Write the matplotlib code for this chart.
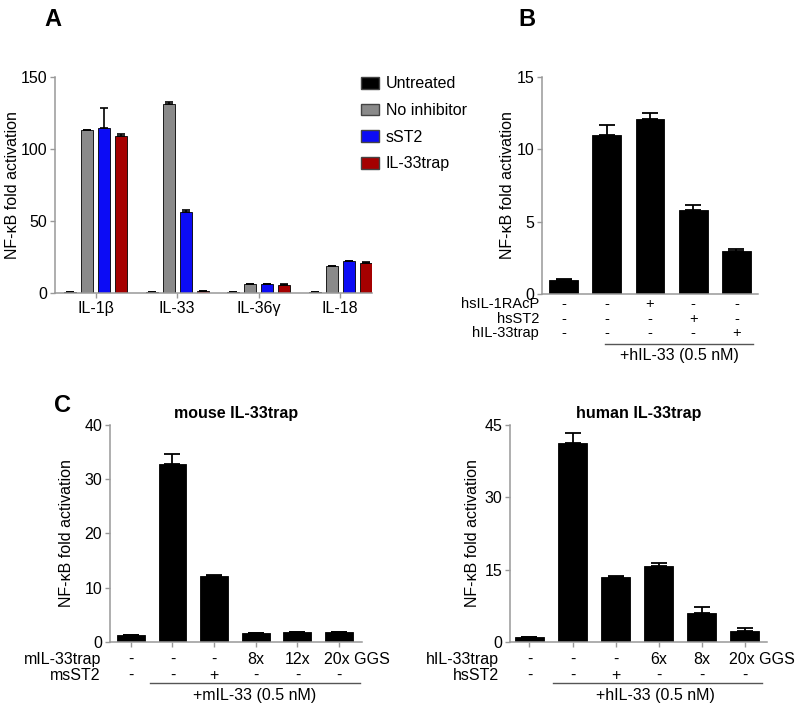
import numpy as np
import matplotlib
matplotlib.use("Agg")
import matplotlib.pyplot as plt
from matplotlib.patches import Patch

# =========================
# Data
# =========================
a_groups = ["IL-1\u03b2", "IL-33", "IL-36\u03b3", "IL-18"]
a_series = ["Untreated", "No inhibitor", "sST2", "IL-33trap"]
a_untreated = [1.0, 1.0, 1.0, 1.0]
a_no_inhib = [113.0, 131.5, 6.0, 18.5]
a_sst2 = [114.5, 56.5, 6.0, 22.2]
a_trap = [109.0, 1.5, 5.7, 21.0]
a_untreated_err = [0.0, 0.0, 0.0, 0.0]
a_no_inhib_err = [0.3, 0.8, 0.3, 0.3]
a_sst2_err = [14.0, 1.0, 0.3, 0.3]
a_trap_err = [1.5, 0.2, 0.3, 0.8]

b_vals = [1.0, 11.0, 12.1, 5.8, 3.0]
b_err = [0.03, 0.65, 0.4, 0.35, 0.08]
b_row_names = ["hsIL-1RAcP", "hsST2", "hIL-33trap"]
b_rows = [
    ["-", "-", "+", "-", "-"],
    ["-", "-", "-", "+", "-"],
    ["-", "-", "-", "-", "+"],
]
b_note = "+hIL-33 (0.5 nM)"

cm_vals = [1.2, 32.9, 12.2, 1.7, 1.8, 1.8]
cm_err = [0.1, 1.7, 0.1, 0.05, 0.05, 0.05]
cm_row_names = ["mIL-33trap", "msST2"]
cm_rows = [
    ["-", "-", "-", "8x", "12x", "20x GGS"],
    ["-", "-", "+", "-", "-", "-"],
]
cm_note = "+mIL-33 (0.5 nM)"

ch_vals = [1.0, 41.3, 13.5, 15.8, 6.0, 2.2]
ch_err = [0.1, 2.1, 0.15, 0.6, 1.2, 0.6]
ch_row_names = ["hIL-33trap", "hsST2"]
ch_rows = [
    ["-", "-", "-", "6x", "8x", "20x GGS"],
    ["-", "-", "+", "-", "-", "-"],
]
ch_note = "+hIL-33 (0.5 nM)"

colors = ["#000000", "#8a8a8a", "#0c0cf5", "#a50000"]
ylab = "NF-\u03baB fold activation"

# =========================
# Style
# =========================
fs = 11.5
plt.rcParams.update({
    "font.family": ["Liberation Sans", "DejaVu Sans"],
    "font.size": fs,
    "axes.labelsize": fs,
    "xtick.labelsize": fs,
    "ytick.labelsize": fs,
    "axes.linewidth": 1.1,
    "axes.edgecolor": "#999999",
    "xtick.color": "#999999",
    "ytick.color": "#999999",
    "xtick.labelcolor": "black",
    "ytick.labelcolor": "black",
    "xtick.major.size": 3.5,
    "ytick.major.size": 3.5,
    "xtick.major.width": 1.0,
    "ytick.major.width": 1.0,
    "xtick.major.pad": 2.5,
    "ytick.major.pad": 2.0,
})

fig = plt.figure(figsize=(8, 7.11), dpi=100)


def style_axes(ax):
    ax.spines["top"].set_visible(False)
    ax.spines["right"].set_visible(False)


def bar_panel(ax, vals, err, ymax, yticks, xmax):
    x = np.arange(len(vals))
    ax.bar(x, vals, width=0.67, color="black", edgecolor="black", linewidth=0.6,
           yerr=[np.zeros(len(err)), err], capsize=5.5,
           error_kw=dict(elinewidth=1.3, capthick=1.3, ecolor="black"))
    ax.set_ylim(0, ymax)
    ax.set_yticks(yticks)
    ax.set_xlim(-0.5, xmax)
    style_axes(ax)


def condition_rows(ax, row_names, rows, ys, name_x, line_x, line_y, note, note_x, note_y,
                   size=fs):
    tr = ax.get_xaxis_transform()
    for name, row, y in zip(row_names, rows, ys):
        ax.text(name_x, y, name, transform=tr, ha="right", va="center", clip_on=False,
                fontsize=size)
        for i, s in enumerate(row):
            if " " in s:
                ax.text(i - 0.37, y, s, transform=tr, ha="left", va="center",
                        clip_on=False, fontsize=size)
            else:
                ax.text(i, y, s, transform=tr, ha="center", va="center",
                        clip_on=False, fontsize=size)
    ax.plot(line_x, [line_y, line_y], transform=tr, color="#555555", lw=1.0, clip_on=False)
    ax.text(note_x, note_y, note, transform=tr, ha="center", va="center", clip_on=False)


# =========================
# (A)
# =========================
ax = fig.add_axes([0.06875, 0.5879, 0.39625, 0.3038])
xg = np.arange(len(a_groups))
offsets = [-0.313, -0.104, 0.104, 0.313]
series_vals = [a_untreated, a_no_inhib, a_sst2, a_trap]
series_err = [a_untreated_err, a_no_inhib_err, a_sst2_err, a_trap_err]
for off, vals, err, c in zip(offsets, series_vals, series_err, colors):
    ax.bar(xg + off, vals, width=0.145, color=c, edgecolor="black", linewidth=0.6,
           yerr=[np.zeros(len(err)), err], capsize=3,
           error_kw=dict(elinewidth=1.2, capthick=1.2, ecolor="black"))
ax.set_ylim(0, 150)
ax.set_yticks([0, 50, 100, 150])
ax.set_xlim(-0.5, 3.39)
ax.set_xticks(xg)
ax.set_xticklabels(a_groups)
ax.set_ylabel(ylab)
ax.yaxis.set_label_coords(-0.11, 0.5)
style_axes(ax)
ax.legend(
    handles=[Patch(facecolor=c, edgecolor="#444444", label=l) for c, l in zip(colors, a_series)],
    loc="upper left", bbox_to_anchor=(0.94, 1.04), frameon=False, borderpad=0,
    handlelength=1.15, handleheight=0.75, handletextpad=0.4, labelspacing=0.73,
    fontsize=fs,
)
fig.text(0.066, 0.972, "A", fontsize=17, fontweight="bold", ha="center", va="center")

# =========================
# (B)
# =========================
ax = fig.add_axes([0.6775, 0.5865, 0.27, 0.3052])
bar_panel(ax, b_vals, b_err, 15, [0, 5, 10, 15], 4.5)
ax.set_xticks([])
ax.set_ylabel(ylab)
ax.yaxis.set_label_coords(-0.125, 0.5)
condition_rows(ax, b_row_names, b_rows, [-0.048, -0.114, -0.180], -0.57,
               [0.96, 4.38], -0.232, b_note, 2.69, -0.285, size=10.5)
fig.text(0.659, 0.972, "B", fontsize=17, fontweight="bold", ha="center", va="center")

# =========================
# (C) mouse
# =========================
ax = fig.add_axes([0.1375, 0.09705, 0.315, 0.3052])
bar_panel(ax, cm_vals, cm_err, 40, [0, 10, 20, 30, 40], 5.55)
ax.set_xticks(np.arange(len(cm_vals)))
ax.set_xticklabels([])
ax.set_ylabel(ylab)
ax.yaxis.set_label_coords(-0.143, 0.5)
ax.set_title("mouse IL-33trap", fontweight="bold", fontsize=fs, pad=5)
condition_rows(ax, cm_row_names, cm_rows, [-0.080, -0.154], -0.72,
               [0.457, 5.5], -0.189, cm_note, 2.98, -0.245)
fig.text(0.078, 0.43, "C", fontsize=17, fontweight="bold", ha="center", va="center")

# =========================
# (C) human
# =========================
ax = fig.add_axes([0.6375, 0.09705, 0.32125, 0.3052])
bar_panel(ax, ch_vals, ch_err, 45, [0, 15, 30, 45], 5.52)
ax.set_xlim(-0.453, 5.52)
ax.set_xticks(np.arange(len(ch_vals)))
ax.set_xticklabels([])
ax.set_ylabel(ylab)
ax.yaxis.set_label_coords(-0.117, 0.5)
ax.set_title("human IL-33trap", fontweight="bold", fontsize=fs, pad=5)
condition_rows(ax, ch_row_names, ch_rows, [-0.080, -0.154], -0.71,
               [0.55, 5.41], -0.189, ch_note, 2.92, -0.245)

fig.savefig("out.png", dpi=100)
